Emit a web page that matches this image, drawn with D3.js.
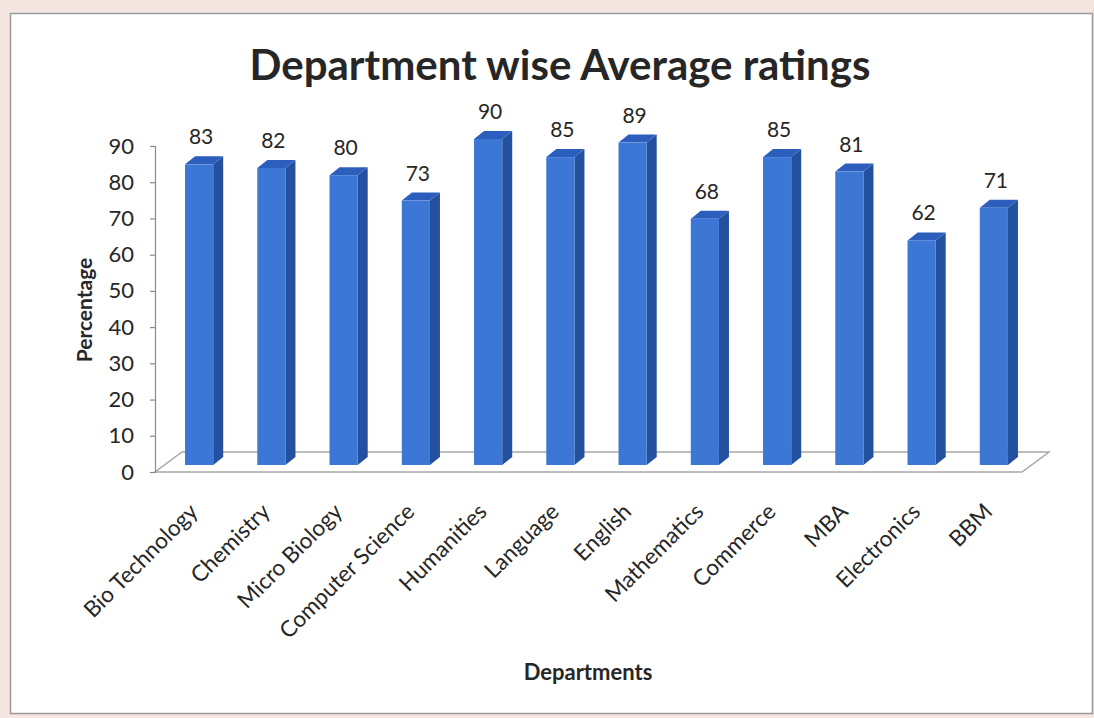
<!DOCTYPE html>
<html>
<head>
<meta charset="utf-8">
<script src="https://cdn.jsdelivr.net/npm/d3@7"></script>
<style>
  html, body { margin: 0; padding: 0; background: #f4e5e0; }
  svg { display: block; }
  text { font-family: Lato, "Open Sans", sans-serif; fill: #262626; }
</style>
</head>
<body>
<svg id="chart" width="1094" height="718"></svg>
<script>
const categories = ["Bio Technology", "Chemistry", "Micro Biology", "Computer Science", "Humanities",
  "Language", "English", "Mathematics", "Commerce", "MBA", "Electronics", "BBM"];
const ratings = [83, 82, 80, 73, 90, 85, 89, 68, 85, 81, 62, 71];
const yTicks = [0, 10, 20, 30, 40, 50, 60, 70, 80, 90];
const titleText = "Department wise Average ratings";
const xTitle = "Departments";
const yTitle = "Percentage";

const svg = d3.select("#chart");
const W = 1094, H = 718;

// background frame
svg.append("rect").attr("x", 0).attr("y", 0).attr("width", W).attr("height", H).attr("fill", "#f4e5e0");
svg.append("rect").attr("x", 10.5).attr("y", 13.5).attr("width", 1082).attr("height", 700)
  .attr("fill", "#ffffff").attr("stroke", "#9a9a9a").attr("stroke-width", 1.5);

const x = d3.scaleBand().domain(categories).range([155, 1022]).paddingInner(0.61).paddingOuter(0.305);
const y = d3.scaleLinear().domain([0, 90]).range([472, 146]);

// 3D offsets
const depthX = 27, depthY = -20;      // floor depth
const barDX = 8, barDY = -7;          // bar position inside depth
const sideW = 10, sideH = -8;         // bar own depth

// floor
const x0 = x.range()[0], x1 = x.range()[1], y0 = y(0);
svg.append("polygon")
  .attr("points", [[x0, y0], [x1, y0], [x1 + depthX, y0 + depthY], [x0 + depthX, y0 + depthY]].map(p => p.join(",")).join(" "))
  .attr("fill", "#ffffff").attr("stroke", "#a8a8a8").attr("stroke-width", 1.5);

// y axis
const yAxis = d3.axisLeft(y).tickValues(yTicks).tickSize(5).tickPadding(16);
const gy = svg.append("g").attr("transform", `translate(${x0},0)`).call(yAxis);
gy.select(".domain").attr("stroke", "#8a8a8a").attr("stroke-width", 1.2);
gy.selectAll(".tick line").attr("stroke", "#8a8a8a").attr("stroke-width", 1.2);
gy.selectAll(".tick text").style("font-family", "Lato, sans-serif").style("font-size", "22px").attr("fill", "#262626");

// bars
const bars = svg.append("g").selectAll("g").data(categories).join("g");
const bw = x.bandwidth();
bars.each(function (c, i) {
  const g = d3.select(this);
  const bx = x(c) + barDX;
  const top = y(ratings[i]) + barDY;
  const bot = y(0) + barDY;
  // side
  g.append("polygon")
    .attr("points", [[bx + bw, top], [bx + bw + sideW, top + sideH], [bx + bw + sideW, bot + sideH], [bx + bw, bot]].map(p => p.join(",")).join(" "))
    .attr("fill", "#23509f");
  // top
  g.append("polygon")
    .attr("points", [[bx, top], [bx + sideW, top + sideH], [bx + bw + sideW, top + sideH], [bx + bw, top]].map(p => p.join(",")).join(" "))
    .attr("fill", "#2c5fbd");
  // front
  g.append("rect").attr("x", bx).attr("y", top).attr("width", bw).attr("height", bot - top)
    .attr("fill", "#3c77d6");
  // value label
  g.append("text").attr("x", bx + bw / 2 + 2).attr("y", top + sideH - 12)
    .attr("text-anchor", "middle").style("font-size", "21px").text(ratings[i]);
});

// category labels
svg.append("g").selectAll("text").data(categories).join("text")
  .attr("transform", c => `translate(${x(c) + bw / 2 + barDX},${513}) rotate(-45)`)
  .attr("text-anchor", "end")
  .style("font-size", "22.5px")
  .text(c => c);

// titles
svg.append("text").attr("x", 560).attr("y", 80).attr("text-anchor", "middle")
  .style("font-size", "42px").style("font-weight", "bold").text(titleText);
svg.append("text").attr("x", 588).attr("y", 680).attr("text-anchor", "middle")
  .style("font-size", "22px").style("font-weight", "bold").text(xTitle);
svg.append("text").attr("transform", "translate(92,310) rotate(-90)").attr("text-anchor", "middle")
  .style("font-size", "21px").style("font-weight", "bold").text(yTitle);
</script>
</body>
</html>
